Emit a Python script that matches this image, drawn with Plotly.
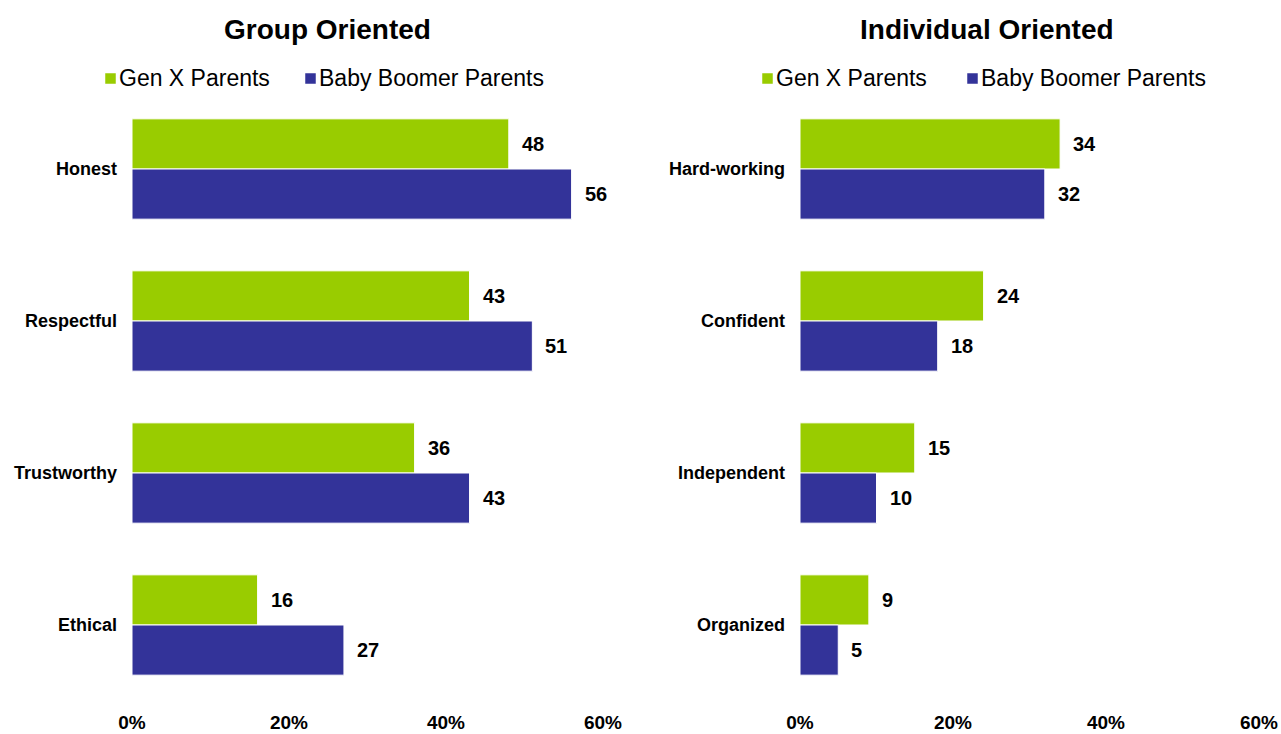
import plotly.graph_objects as go

# Survey results: share of parents naming each trait (%)
group_traits = ["Honest", "Respectful", "Trustworthy", "Ethical"]
group_genx = [48, 43, 36, 16]
group_boomer = [56, 51, 43, 27]

indiv_traits = ["Hard-working", "Confident", "Independent", "Organized"]
indiv_genx = [34, 24, 15, 9]
indiv_boomer = [32, 18, 10, 5]

tick_vals = [0, 20, 40, 60]
tick_text = ["0%", "20%", "40%", "60%"]

series_names = ["Gen X Parents", "Baby Boomer Parents"]
GREEN = "#99CC00"
BLUE = "#333399"
FONT = "Arial, Liberation Sans, sans-serif"

W, H = 1281, 734
M_TOP, M_BOT = 93, 33
PLOT_H = H - M_TOP - M_BOT


def py(px):
    """Pixel row (from top of figure) to paper y (plot-area based)."""
    return (H - M_BOT - px) / PLOT_H


fig = go.Figure()

panels = [
    ("x", "y", group_traits, group_genx, group_boomer),
    ("x2", "y2", indiv_traits, indiv_genx, indiv_boomer),
]

annotations = []
for xa, ya, cats, genx, boomer in panels:
    for name, vals, color, shift in [
        (series_names[0], genx, GREEN, 25),
        (series_names[1], boomer, BLUE, -25),
    ]:
        fig.add_trace(go.Bar(
            x=vals, y=cats, orientation="h", name=name,
            marker=dict(color=color, line=dict(color="white", width=1)),
            xaxis=xa, yaxis=ya, showlegend=False, hoverinfo="x+y",
        ))
        for c, v in zip(cats, vals):
            annotations.append(dict(
                x=v, y=c, xref=xa, yref=ya, text=str(v),
                showarrow=False, xanchor="left", yanchor="middle",
                xshift=11, yshift=shift,
                font=dict(family=FONT, size=20, color="black", weight="bold"),
            ))

# Panel titles
for text, xc in [("Group Oriented", 327), ("Individual Oriented", 987)]:
    annotations.append(dict(
        x=xc / W, y=py(30), xref="paper", yref="paper", text=text,
        showarrow=False, xanchor="center", yanchor="middle",
        font=dict(family=FONT, size=28, color="black", weight="bold"),
    ))

# Legends drawn as swatch + label for each panel
shapes = []
legend_items = [
    (105, series_names[0], GREEN),
    (305, series_names[1], BLUE),
    (762, series_names[0], GREEN),
    (967, series_names[1], BLUE),
]
for x0, label, color in legend_items:
    shapes.append(dict(
        type="rect", xref="paper", yref="paper",
        x0=x0 / W, x1=(x0 + 11) / W,
        y0=py(84), y1=py(73),
        fillcolor=color, line=dict(color="white", width=0.5),
    ))
    annotations.append(dict(
        x=(x0 + 12) / W, y=py(78), xref="paper", yref="paper",
        text=label, showarrow=False, xanchor="left", yanchor="middle",
        font=dict(family=FONT, size=23, color="black"),
    ))

xaxis_common = dict(
    range=[0, 60], tickvals=tick_vals, ticktext=tick_text,
    showgrid=False, zeroline=False, showline=False, ticks="",
    ticklabelstandoff=8, fixedrange=True,
    tickfont=dict(family=FONT, size=19, color="black", weight="bold"),
)
yaxis_common = dict(
    autorange="reversed", showgrid=False, zeroline=False, showline=False,
    ticks="", ticklabelstandoff=14, fixedrange=True,
    tickfont=dict(family=FONT, size=18, color="black", weight="bold"),
)

fig.update_layout(
    width=W, height=H,
    margin=dict(l=0, r=0, t=M_TOP, b=M_BOT, autoexpand=False),
    paper_bgcolor="white", plot_bgcolor="white",
    barmode="group", bargap=0.34, bargroupgap=0,
    xaxis=dict(domain=[132 / W, 603 / W], anchor="y", **xaxis_common),
    yaxis=dict(anchor="x", **yaxis_common),
    xaxis2=dict(domain=[800 / W, 1259 / W], anchor="y2", **xaxis_common),
    yaxis2=dict(anchor="x2", **yaxis_common),
    annotations=annotations,
    shapes=shapes,
    showlegend=False,
)

fig.write_html("out.html", config={"displayModeBar": False})
